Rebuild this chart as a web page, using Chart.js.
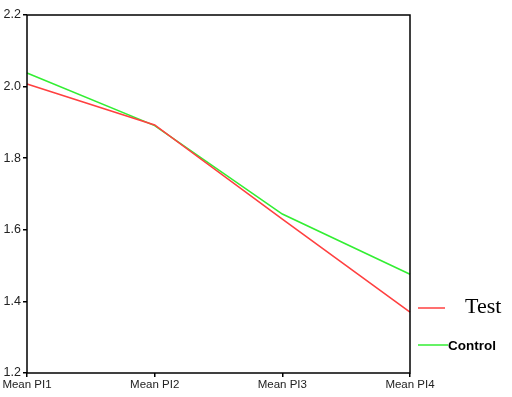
<!DOCTYPE html>
<html>
<head>
<meta charset="utf-8">
<script src="https://cdn.jsdelivr.net/npm/chart.js@4/dist/chart.umd.min.js"></script>
<style>
  html, body { margin: 0; padding: 0; background: #fff; }
  #wrap { width: 512px; height: 397px; position: relative; }
</style>
</head>
<body>
<div id="wrap"><canvas id="chart" width="512" height="397"></canvas></div>
<script>
// categories and series
const categories = ["Mean PI1", "Mean PI2", "Mean PI3", "Mean PI4"];
const testValues = [2.007, 1.893, 1.630, 1.370];
const controlValues = [2.038, 1.891, 1.644, 1.476];
const yTicks = [1.2, 1.4, 1.6, 1.8, 2.0, 2.2];

const frame = {
  id: "frame",
  afterDraw(c) {
    const { ctx, chartArea: a } = c;
    ctx.save();
    ctx.strokeStyle = "#000";
    ctx.lineWidth = 1.5;
    ctx.strokeRect(a.left, a.top, a.right - a.left, a.bottom - a.top);
    ctx.restore();
  }
};

// legend sitting outside the plot, on the right
const sideLegend = {
  id: "sideLegend",
  afterDraw(c) {
    const ctx = c.ctx;
    const ds = c.data.datasets;
    ctx.save();
    ctx.lineWidth = 1.5;
    ctx.strokeStyle = ds[0].borderColor;
    ctx.beginPath(); ctx.moveTo(418, 308); ctx.lineTo(445, 308); ctx.stroke();
    ctx.fillStyle = "#000";
    ctx.textBaseline = "alphabetic";
    ctx.font = "22px 'Liberation Serif', 'Times New Roman', serif";
    ctx.fillText(ds[0].label, 465, 313);
    ctx.strokeStyle = ds[1].borderColor;
    ctx.beginPath(); ctx.moveTo(418, 345); ctx.lineTo(448, 345); ctx.stroke();
    ctx.font = "bold 13.5px 'Liberation Sans', Arial, sans-serif";
    ctx.textBaseline = "middle";
    ctx.fillText(ds[1].label, 448, 346);
    ctx.restore();
  }
};

new Chart(document.getElementById("chart"), {
  type: "line",
  data: {
    labels: categories,
    datasets: [
      { label: "Test", data: testValues, borderColor: "#ff4040", borderWidth: 1.6, pointRadius: 0, tension: 0 },
      { label: "Control", data: controlValues, borderColor: "#33ee33", borderWidth: 1.6, pointRadius: 0, tension: 0 }
    ]
  },
  options: {
    responsive: false,
    animation: false,
    layout: { padding: { left: 0, right: 102, top: 15, bottom: 0 } },
    plugins: { legend: { display: false }, tooltip: { enabled: false } },
    scales: {
      x: {
        offset: false,
        grid: { display: true, drawOnChartArea: false, tickLength: 4, color: "#000", lineWidth: 1.5 },
        border: { display: false },
        ticks: { color: "#222", font: { family: "'Liberation Sans', Arial, sans-serif", size: 11.5 }, padding: 1, maxRotation: 0, autoSkip: false },
        afterFit(s) { s.height = 24; }
      },
      y: {
        min: 1.2,
        max: 2.2,
        afterBuildTicks(s) { s.ticks = yTicks.map(v => ({ value: v })); },
        grid: { display: true, drawOnChartArea: false, tickLength: 4, color: "#000", lineWidth: 1.5 },
        border: { display: false },
        ticks: {
          color: "#222",
          font: { family: "'Liberation Sans', Arial, sans-serif", size: 12.5 },
          padding: 2,
          callback: v => v.toFixed(1)
        },
        afterFit(s) { s.width = 27; }
      }
    }
  },
  plugins: [frame, sideLegend]
});
</script>
</body>
</html>
